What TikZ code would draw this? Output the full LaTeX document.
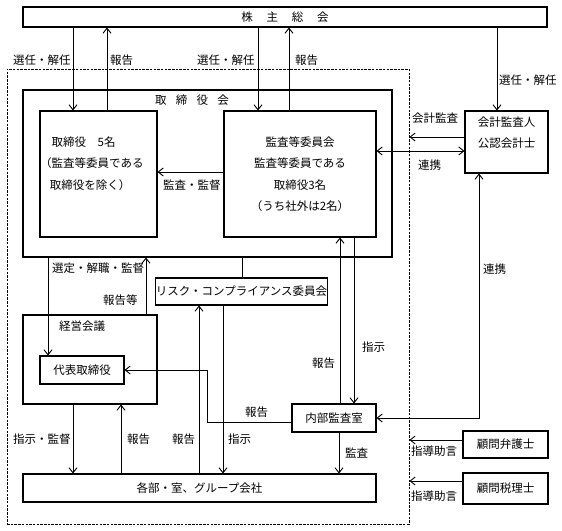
\documentclass[tikz,border=0pt]{standalone}
\usepackage{fontspec}
\setmainfont{Noto Sans CJK JP}
\usetikzlibrary{arrows.meta}
\begin{document}
\begin{tikzpicture}[x=1pt,y=-1pt,
  every node/.style={font=\fontsize{11.5}{21.5}\selectfont, inner sep=0pt},
  box/.style={draw, line width=1.1pt, rectangle},
  frame/.style={draw, line width=0.9pt, dash pattern=on 2.5pt off 1.2pt},
  lbl/.style={anchor=west},
  conn/.style={line width=0.9pt},
  arr/.style={conn, -{Straight Barb[length=5pt,width=8pt]}},
  arrb/.style={conn, {Straight Barb[length=5pt,width=8pt]}-{Straight Barb[length=5pt,width=8pt]}}
]
\useasboundingbox (0,0) rectangle (562,530);

% frame and boxes
\node[frame, minimum width=402pt, minimum height=455pt] (grp) at (208,296.5) {};
\node[box, minimum width=524pt, minimum height=20pt] (gm) at (285,17) {株\hspace{1.2em}主\hspace{1.2em}総\hspace{1.2em}会};
\node[box, minimum width=369pt, minimum height=167pt] (board) at (207.5,173.5) {};
\node (boardlbl) at (192,100) {取\hspace{0.8em}締\hspace{0.8em}役\hspace{0.8em}会};
\node[box, minimum width=117pt, minimum height=126pt] (dir) at (98.5,174) {};
\node[anchor=west, align=left] (dirtxt) at (40,163.5) {\hspace*{1.0em}取締役　5名\\（監査等委員である\\\hspace*{0.85em}取締役を除く）};
\node[box, minimum width=152pt, minimum height=126pt, align=center] (ac) at (300,174) {監査等委員会\\監査等委員である\\取締役3名\hspace*{2.6em}\\（うち社外は2名）};
\node[box, minimum width=83pt, minimum height=62pt] (aud) at (506.5,142) {};
\node[align=center] (audtxt) at (506.5,132.5) {会計監査人\\公認会計士};
\node[box, minimum width=134pt, minimum height=89pt] (mm) at (90,359.5) {};
\node[lbl] (mmlbl) at (59,326) {経営会議};
\node[box, minimum width=84pt, minimum height=28pt] (rep) at (82,370) {代表取締役};
\node[box, minimum width=169pt, minimum height=27pt] (risk) at (241.5,291.5) {リスク・コンプライアンス委員会};
\node[box, minimum width=84pt, minimum height=28pt] (ia) at (334,418) {内部監査室};
\node[box, minimum width=353pt, minimum height=28pt] (dept) at (199.5,488) {各部・室、グループ会社};
\node[box, minimum width=85pt, minimum height=27pt] (law) at (505.5,444.5) {顧問弁護士};
\node[box, minimum width=85pt, minimum height=31pt] (tax) at (505.5,488.5) {顧問税理士};

% column / row reference coordinates
\coordinate (c48) at (48,0);
\coordinate (c73) at (73,0);
\coordinate (c107) at (107,0);
\coordinate (c121) at (121,0);
\coordinate (c146) at (146,0);
\coordinate (c199) at (199,0);
\coordinate (c207) at (207,0);
\coordinate (c223) at (223,0);
\coordinate (c242) at (242,0);
\coordinate (c258) at (258,0);
\coordinate (c289) at (289,0);
\coordinate (c339) at (339,0);
\coordinate (c340) at (340,0);
\coordinate (c354) at (354,0);
\coordinate (c479) at (479,0);
\coordinate (c497) at (497,0);
\coordinate (r137) at (0,137);
\coordinate (r151) at (0,151);
\coordinate (r172) at (0,172);
\coordinate (r422) at (0,422);
\coordinate (r440) at (0,440);
\coordinate (r481) at (0,481);

% connectors
\draw[arr] (gm.south -| c73) -- (dir.north -| c73);
\draw[arr] (dir.north -| c107) -- (gm.south -| c107);
\draw[arr] (gm.south -| c258) -- (ac.north -| c258);
\draw[arr] (ac.north -| c289) -- (gm.south -| c289);
\draw[arr] (gm.south -| c497) -- (aud.north -| c497);
\draw[arr] (aud.west |- r137) -- (grp.east |- r137);
\draw[arrb] (ac.east |- r151) -- (aud.west |- r151);
\draw[arr] (ac.west |- r172) -- (dir.east |- r172);
\draw[arr] (board.south -| c48) -- (rep.north -| c48);
\draw[arr] (mm.north -| c146) -- (board.south -| c146);
\draw[conn] (board.south -| c242) -- (risk.north -| c242);
\draw[arr] (ia.north -| c340) -- (ac.south -| c340);
\draw[arr] (ac.south -| c354) -- (ia.north -| c354);
\draw[arrb] (aud.south -| c479) |- (ia.east);
\draw[arr] (ia.west |- r422) -| (c207 |- rep.east) -- (rep.east);
\draw[arr] (mm.south -| c73) -- (dept.north -| c73);
\draw[arr] (dept.north -| c121) -- (mm.south -| c121);
\draw[arr] (dept.north -| c199) -- (risk.south -| c199);
\draw[arr] (risk.south -| c223) -- (dept.north -| c223);
\draw[arr] (ia.south -| c339) -- (dept.north -| c339);
\draw[arr] (law.west |- r440) -- (grp.east |- r440);
\draw[arr] (tax.west |- r481) -- (grp.east |- r481);

% labels
\node[lbl] (l1) at (13,60) {選任・解任};
\node[lbl] (l2) at (110,60) {報告};
\node[lbl] (l3) at (197,60) {選任・解任};
\node[lbl] (l4) at (295,60) {報告};
\node[lbl] (l5) at (499,80) {選任・解任};
\node[lbl] (l6) at (412,118) {会計監査};
\node[lbl] (l7) at (418,165) {連携};
\node[lbl] (l8) at (163,185) {監査・監督};
\node[lbl] (l9) at (52,268) {選定・解職・監督};
\node[lbl] (l10) at (103,300) {報告等};
\node[lbl] (l11) at (483,269) {連携};
\node[lbl] (l12) at (362,347) {指示};
\node[lbl] (l13) at (312,363) {報告};
\node[lbl] (l14) at (245,412) {報告};
\node[lbl] (l15) at (13,439) {指示・監督};
\node[lbl] (l16) at (127,439) {報告};
\node[lbl] (l17) at (172,439) {報告};
\node[lbl] (l18) at (228,439) {指示};
\node[lbl] (l19) at (345,453) {監査};
\node[lbl] (l20) at (411,451) {指導助言};
\node[lbl] (l21) at (411,496) {指導助言};
\end{tikzpicture}
\end{document}
